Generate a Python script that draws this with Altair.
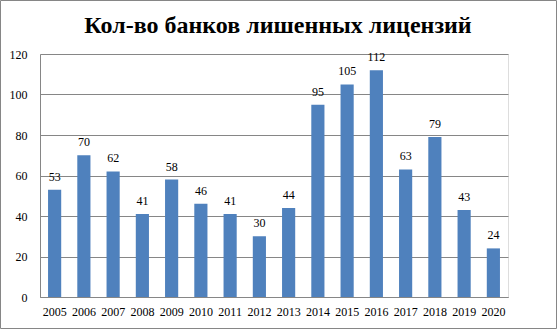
import altair as alt
import pandas as pd

title_text = "Кол-во банков лишенных лицензий"
years = ["2005", "2006", "2007", "2008", "2009", "2010", "2011", "2012",
         "2013", "2014", "2015", "2016", "2017", "2018", "2019", "2020"]
counts = [53, 70, 62, 41, 58, 46, 41, 30, 44, 95, 105, 112, 63, 79, 43, 24]

df = pd.DataFrame({"year": years, "count": counts})
tdf = pd.DataFrame({"t": [title_text]})

FONT = "Liberation Serif"

x = alt.X("year:N", sort=years, title=None,
          scale=alt.Scale(paddingInner=0.55, paddingOuter=0.275),
          axis=alt.Axis(labelAngle=0, ticks=False, labelPadding=9,
                        labelFont=FONT, labelFontSize=12, labelColor="#000000",
                        domainColor="#868686", grid=False))
y = alt.Y("count:Q", title=None,
          scale=alt.Scale(domain=[0, 120], nice=False),
          axis=alt.Axis(values=[0, 20, 40, 60, 80, 100, 120], ticks=False,
                        labelPadding=13, labelFont=FONT, labelFontSize=12,
                        labelColor="#000000", domainColor="#868686",
                        gridColor="#868686", gridWidth=1, gridOpacity=1))

bars = alt.Chart(df).mark_bar(color="#4F81BD").encode(x=x, y=y)

labels = alt.Chart(df).mark_text(baseline="bottom", dy=-6, font=FONT,
                                 fontSize=12, color="#000000").encode(
    x=alt.X("year:N", sort=years),
    y="count:Q",
    text="count:Q")

title = alt.Chart(tdf).mark_text(font=FONT, fontSize=24, fontWeight="bold",
                                 color="#000000", align="center",
                                 baseline="alphabetic", clip=False).encode(
    x=alt.value(238), y=alt.value(-21), text="t:N")

border = alt.Chart(tdf).mark_rect(fill=None, stroke="#868686", strokeWidth=1,
                                  clip=False).encode(
    x=alt.value(-39.5), x2=alt.value(516.5),
    y=alt.value(-53.5), y2=alt.value(274.5))

chart = alt.layer(bars, labels, title, border).properties(
    width=468, height=243,
    autosize=alt.AutoSizeParams(type="none"),
    padding={"left": 40, "top": 54, "right": 49, "bottom": 32},
).configure_view(stroke=None).configure(background="#ffffff")

chart.save("out.html", embed_options={"renderer": "svg", "actions": False})
